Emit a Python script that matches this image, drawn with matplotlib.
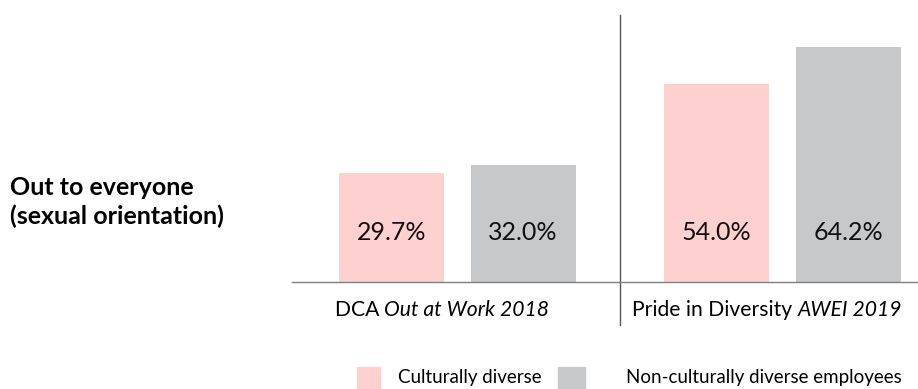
import matplotlib
matplotlib.use("Agg")
import matplotlib.pyplot as plt
from matplotlib.patches import Rectangle

plt.rcParams['font.family'] = ['Lato', 'DejaVu Sans']

groups_plain = ["DCA ", "Pride in Diversity "]
groups_italic = ["Out at Work 2018", "AWEI 2019"]
series_names = ["Culturally diverse", "Non-culturally diverse employees"]
culturally_diverse = [29.7, 54.0]
non_culturally_diverse = [32.0, 64.2]
row_label = "Out to everyone\n(sexual orientation)"

pink = "#FFD0D0"
gray = "#C7C8CA"

W, H = 918, 389
fig = plt.figure(figsize=(W/100, H/100), dpi=100)
ax = fig.add_axes([292/W, (H-282)/H, 626/W, 267/H])

x = [0, 1]
w = 0.323
off = 0.203
b1 = ax.bar([i - off for i in x], culturally_diverse, width=w, color=pink)
b2 = ax.bar([i + off for i in x], non_culturally_diverse, width=w, color=gray)

for bars, vals in ((b1, culturally_diverse), (b2, non_culturally_diverse)):
    for r, v in zip(bars, vals):
        ax.text(r.get_x() + r.get_width()/2, 13.4, f"{v:.1f}%", ha="center", va="center",
                fontsize=18, color="#111111")

ax.set_xlim(-0.508, 1.418)
ax.set_ylim(0, 72.8)
for s in ["top", "right", "left"]:
    ax.spines[s].set_visible(False)
ax.spines["bottom"].set_color("#7f7f7f")
ax.spines["bottom"].set_linewidth(1.0)
ax.set_yticks([])
ax.set_xticks([])

ax.axvline(0.5, ymin=-0.161, ymax=1.0, color="#555555", lw=1.0, clip_on=False)

# category labels: plain + italic parts, centred under each group
fig.canvas.draw()
renderer = fig.canvas.get_renderer()
fs_cat = 15.2
for i, (p, it) in enumerate(zip(groups_plain, groups_italic)):
    t1 = ax.text(0, 0, p, fontsize=fs_cat, transform=fig.transFigure)
    t2 = ax.text(0, 0, it, fontsize=fs_cat, style="italic", transform=fig.transFigure)
    w1 = t1.get_window_extent(renderer).width
    w2 = t2.get_window_extent(renderer).width
    t1.remove(); t2.remove()
    total = w1 + w2
    cx_px = ax.transData.transform((x[i], 0))[0] - 15
    y_fig = 1 - 310/H
    x0 = (cx_px - total/2) / W
    fig.text(x0, y_fig, p, fontsize=fs_cat, ha="left", va="center")
    fig.text(x0 + w1/W, y_fig, it, fontsize=fs_cat, style="italic", ha="left", va="center")

fig.text(10/W, 1 - 202/H, row_label, ha="left", va="center", fontsize=18,
         fontweight="bold", linespacing=1.3)

# legend
fig.patches.append(Rectangle((357/W, 0), 23/W, 22/H, transform=fig.transFigure,
                             color=pink, figure=fig))
fig.text(398/W, 1 - 378/H, series_names[0], ha="left", va="center", fontsize=13.5)
fig.patches.append(Rectangle((558/W, 0), 27/W, 22/H, transform=fig.transFigure,
                             color=gray, figure=fig))
fig.text(626/W, 1 - 378/H, series_names[1], ha="left", va="center", fontsize=13.5)

fig.savefig("out.png", dpi=100)
